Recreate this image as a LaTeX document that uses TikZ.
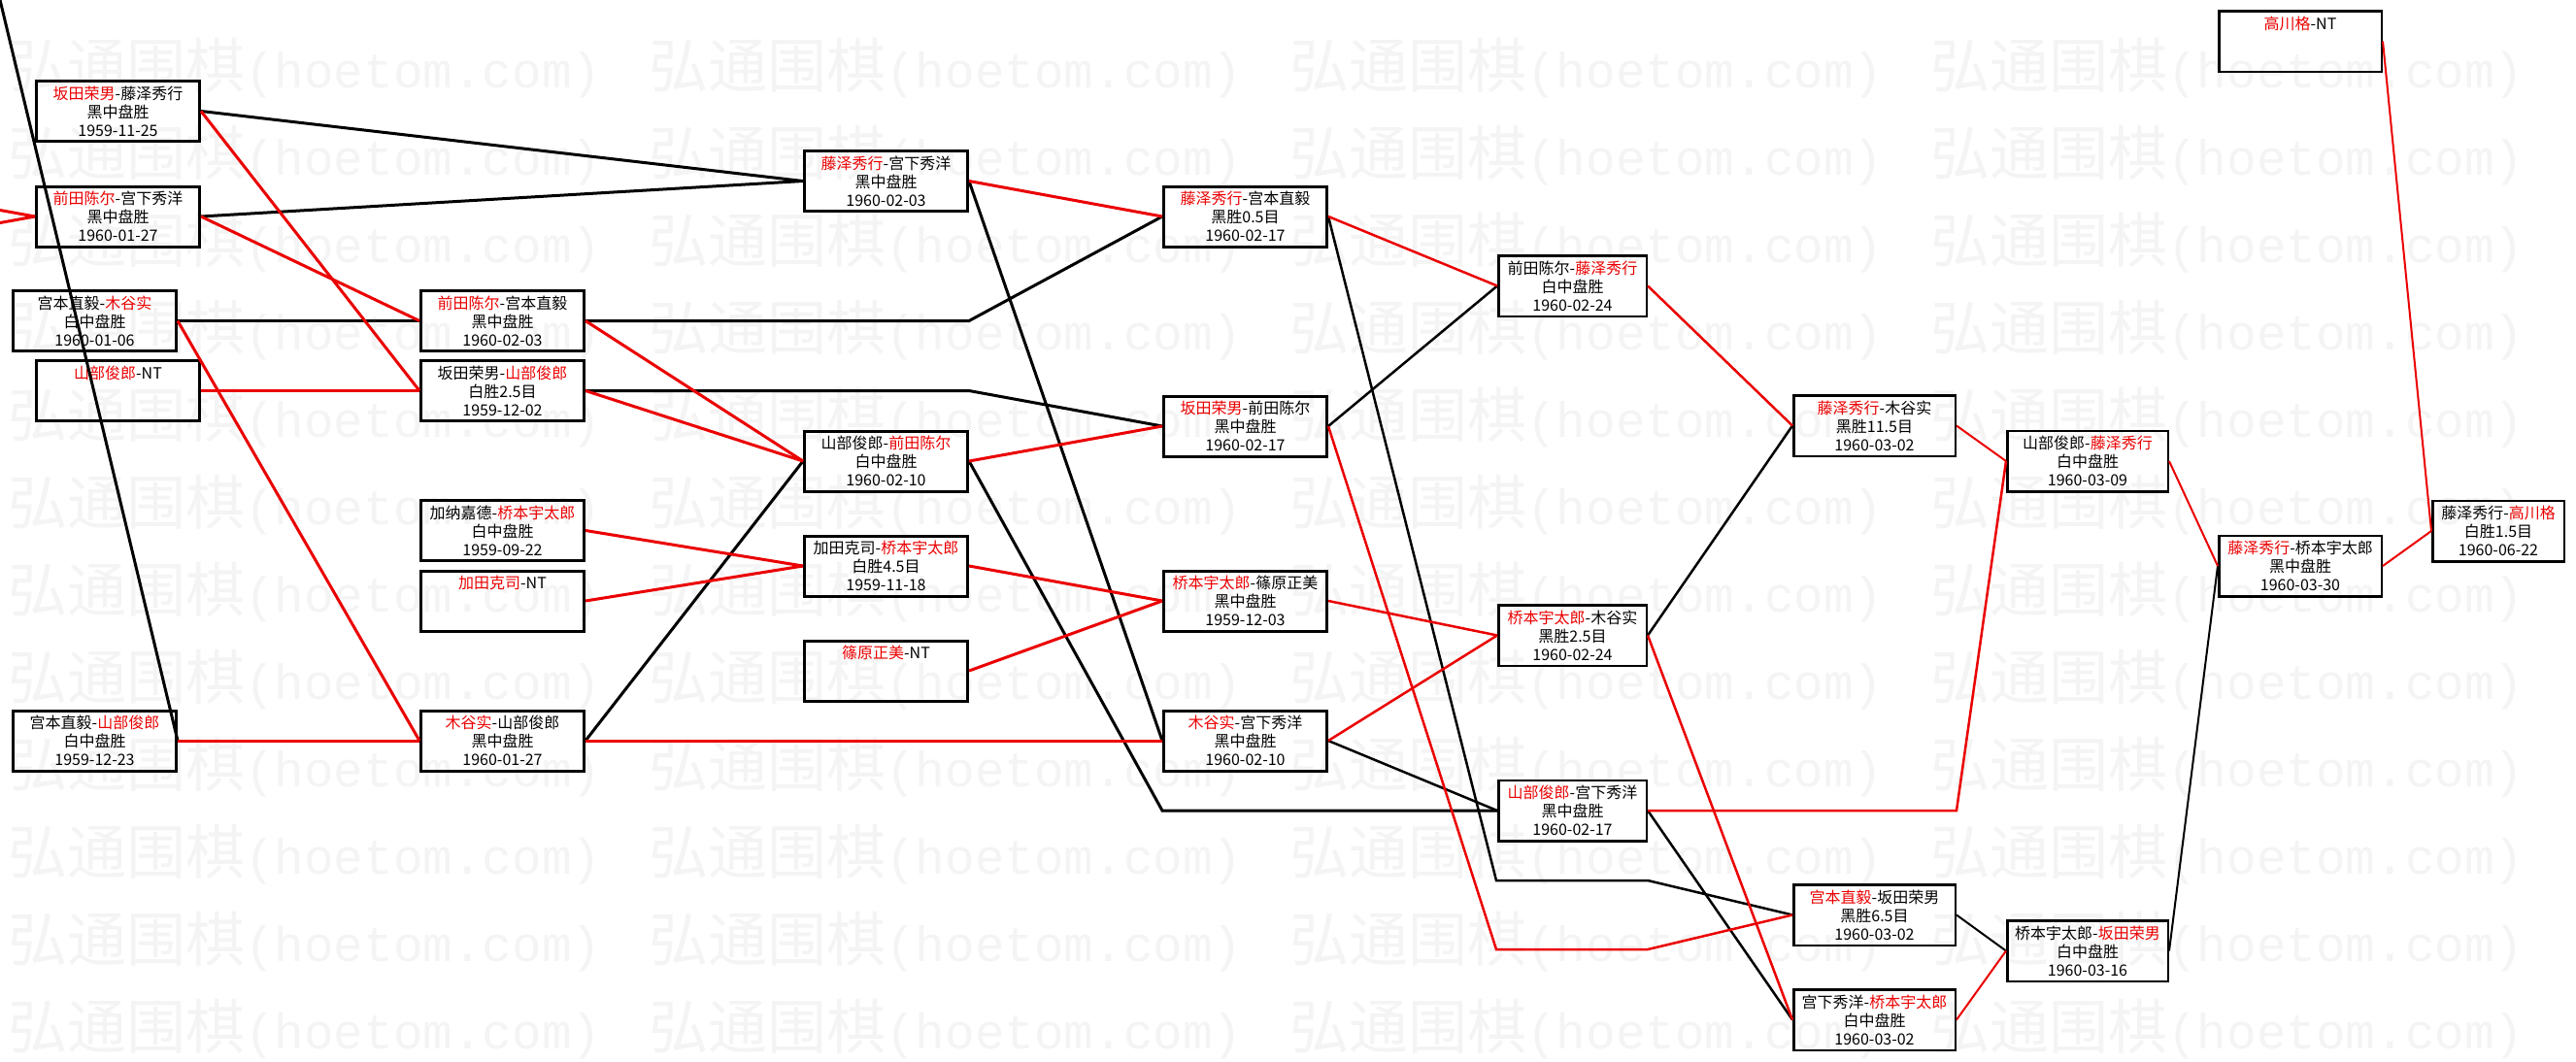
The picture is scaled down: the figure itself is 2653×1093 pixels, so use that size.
\documentclass[tikz,border=0pt]{standalone}
\usepackage{fontspec}
\setmainfont{Noto Sans CJK SC}
\newfontfamily\wmmono{Liberation Mono}
\definecolor{rd}{RGB}{235,0,0}
\definecolor{wm}{RGB}{244,244,244}
\newcommand{\R}[1]{\textcolor{rd}{#1}}
\begin{document}
\begin{tikzpicture}[x=1pt,y=-1pt,
  box/.style={draw=black, line width=3pt, minimum width=168pt, minimum height=62pt, inner sep=0pt, align=center, font=\fontsize{16}{19}\selectfont},
  boxr/.style={box, line width=2.5pt, minimum height=62.5pt},
  bline/.style={draw=black, line width=3pt},
  rline/.style={draw=rd, line width=3pt},
  mid/.style={line width=2.5pt},
  thin/.style={line width=2pt},
  wmk/.style={text=wm, inner sep=0pt, anchor=base west, font=\fontsize{61}{61}\selectfont}
]
\useasboundingbox (0,0) rectangle (2653,1093);
\clip (0,0) rectangle (2653,1093);
\fill[white] (0,0) rectangle (2653,1093);
% watermark
\foreach \k in {0,...,11}{\foreach \j in {0,...,3}{
  \node[wmk] (wm-\k-\j) at ({8+660*\j},{90+90*\k}) {弘通围棋{\wmmono\fontsize{51}{51}\selectfont (hoetom.com)}};
}}
% boxes
\node[box] (A) at (121.5,114.5) {\R{坂田荣男}-藤泽秀行\\黑中盘胜\\1959-11-25};
\node[box] (B) at (121.5,223) {\R{前田陈尔}-宫下秀洋\\黑中盘胜\\1960-01-27};
\node[box] (C) at (97.5,330.5) {宫本直毅-\R{木谷实}\\白中盘胜\\1960-01-06};
\node[box] (D) at (121.5,402.5) {\R{山部俊郎}-NT\\\mbox{}\\\mbox{}};
\node[box] (G) at (97.5,763) {宫本直毅-\R{山部俊郎}\\白中盘胜\\1959-12-23};
\node[box] (E) at (517.5,330.5) {\R{前田陈尔}-宫本直毅\\黑中盘胜\\1960-02-03};
\node[box] (F) at (517.5,402.5) {坂田荣男-\R{山部俊郎}\\白胜2.5目\\1959-12-02};
\node[box] (H) at (517.5,546.5) {加纳嘉德-\R{桥本宇太郎}\\白中盘胜\\1959-09-22};
\node[box] (I) at (517.5,619) {\R{加田克司}-NT\\\mbox{}\\\mbox{}};
\node[box] (J) at (517.5,763) {\R{木谷实}-山部俊郎\\黑中盘胜\\1960-01-27};
\node[box] (K) at (912.5,186.5) {\R{藤泽秀行}-宫下秀洋\\黑中盘胜\\1960-02-03};
\node[box] (L) at (912.5,475) {山部俊郎-\R{前田陈尔}\\白中盘胜\\1960-02-10};
\node[box] (M) at (912.5,583) {加田克司-\R{桥本宇太郎}\\白胜4.5目\\1959-11-18};
\node[box] (N) at (912.5,691) {\R{篠原正美}-NT\\\mbox{}\\\mbox{}};
\node[box] (O) at (1282.5,223) {\R{藤泽秀行}-宫本直毅\\黑胜0.5目\\1960-02-17};
\node[box] (P) at (1282.5,439) {\R{坂田荣男}-前田陈尔\\黑中盘胜\\1960-02-17};
\node[box] (Q) at (1282.5,619) {\R{桥本宇太郎}-篠原正美\\黑中盘胜\\1959-12-03};
\node[box] (T) at (1282.5,763) {\R{木谷实}-宫下秀洋\\黑中盘胜\\1960-02-10};
\node[boxr, minimum width=152.5pt] (R) at (1619.5,294.5) {前田陈尔-\R{藤泽秀行}\\白中盘胜\\1960-02-24};
\node[boxr, minimum width=152.5pt] (S) at (1619.5,654.5) {\R{桥本宇太郎}-木谷实\\黑胜2.5目\\1960-02-24};
\node[boxr, minimum width=152.5pt] (U) at (1619.5,835) {\R{山部俊郎}-宫下秀洋\\黑中盘胜\\1960-02-17};
\node[boxr, minimum width=166.5pt] (Y) at (1930.5,438.5) {\R{藤泽秀行}-木谷实\\黑胜11.5目\\1960-03-02};
\node[boxr, minimum width=166.5pt] (V) at (1930.5,942.5) {\R{宫本直毅}-坂田荣男\\黑胜6.5目\\1960-03-02};
\node[boxr, minimum width=166.5pt] (X) at (1930.5,1050.5) {宫下秀洋-\R{桥本宇太郎}\\白中盘胜\\1960-03-02};
\node[boxr, minimum width=165.5pt] (W) at (2150,475) {山部俊郎-\R{藤泽秀行}\\白中盘胜\\1960-03-09};
\node[boxr, minimum width=165.5pt] (AC) at (2150,979.5) {桥本宇太郎-\R{坂田荣男}\\白中盘胜\\1960-03-16};
\node[boxr, minimum width=167.5pt] (Z) at (2369,42.5) {\R{高川格}-NT\\\mbox{}\\\mbox{}};
\node[boxr, minimum width=167.5pt] (AA) at (2369,583) {\R{藤泽秀行}-桥本宇太郎\\黑中盘胜\\1960-03-30};
\node[boxr, minimum width=135.5pt] (AB) at (2573,547) {藤泽秀行-\R{高川格}\\白胜1.5目\\1960-06-22};
% bend / free-end coordinates
\coordinate (eb) at (E.east -| L.east);
\coordinate (fb) at (F.east -| L.east);
\coordinate (lb) at (T.west |- U.west);
\coordinate (ob1) at (1541,907);
\coordinate (ob2) at (1697,907);
\coordinate (pb1) at (1541,978);
\coordinate (pb2) at (1697,978);
\coordinate (ub) at (Y.east |- U.east);
\coordinate (offT) at (-5,-21);
\coordinate (offB1) at (-36,210);
\coordinate (offB2) at (-36,236);
% black connectors
\draw[bline] (A.east) -- (K.west);
\draw[bline] (B.east) -- (K.west);
\draw[bline] (C.east) -- (E.west);
\draw[bline] (G.east) -- (offT);
\draw[bline] (E.east) -- (eb) -- (O.west);
\draw[bline] (F.east) -- (fb) -- (P.west);
\draw[bline] (J.east) -- (L.west);
\draw[bline] (K.east) -- (T.west);
\draw[bline] (L.east) -- (lb) -- (U.west);
\draw[bline,mid] (O.east) -- (ob1) -- (ob2) -- (V.west);
\draw[bline,mid] (P.east) -- (R.west);
\draw[bline,mid] (T.east) -- (U.west);
\draw[bline,mid] (S.east) -- (Y.west);
\draw[bline,mid] (U.east) -- (X.west);
\draw[bline,thin] (V.east) -- (AC.west);
\draw[bline,thin] (AC.east) -- (AA.west);
% red connectors
\draw[rline] (offB1) -- (B.west);
\draw[rline] (offB2) -- (B.west);
\draw[rline] (A.east) -- (F.west);
\draw[rline] (B.east) -- (E.west);
\draw[rline] (C.east) -- (J.west);
\draw[rline] (D.east) -- (F.west);
\draw[rline] (G.east) -- (J.west);
\draw[rline] (E.east) -- (L.west);
\draw[rline] (F.east) -- (L.west);
\draw[rline] (H.east) -- (M.west);
\draw[rline] (I.east) -- (M.west);
\draw[rline] (J.east) -- (T.west);
\draw[rline] (K.east) -- (O.west);
\draw[rline] (L.east) -- (P.west);
\draw[rline] (M.east) -- (Q.west);
\draw[rline] (N.east) -- (Q.west);
\draw[rline,mid] (O.east) -- (R.west);
\draw[rline,mid] (P.east) -- (pb1) -- (pb2) -- (V.west);
\draw[rline,mid] (Q.east) -- (S.west);
\draw[rline,mid] (T.east) -- (S.west);
\draw[rline,mid] (R.east) -- (Y.west);
\draw[rline,mid] (S.east) -- (X.west);
\draw[rline,mid] (U.east) -- (ub) -- (W.west);
\draw[rline,thin] (Y.east) -- (W.west);
\draw[rline,thin] (X.east) -- (AC.west);
\draw[rline,thin] (W.east) -- (AA.west);
\draw[rline,thin] (AA.east) -- (AB.west);
\draw[rline,thin] (Z.east) -- (AB.west);
\end{tikzpicture}
\end{document}
